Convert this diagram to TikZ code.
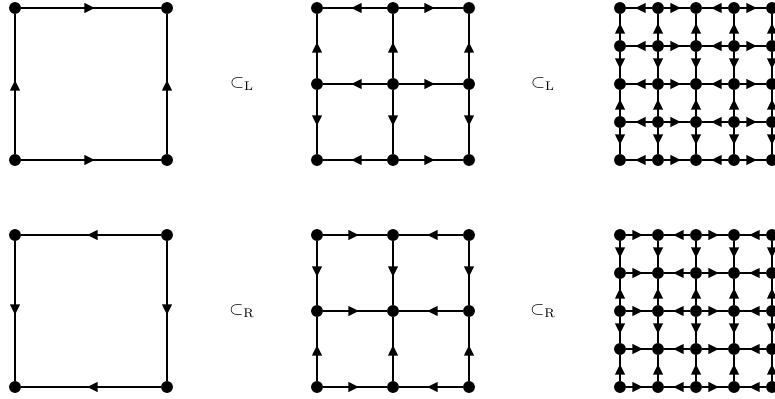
\documentclass[tikz,border=0pt]{standalone}
\usetikzlibrary{decorations.markings,arrows.meta}
\tikzset{
  dot/.style={circle,fill=black,inner sep=0pt,minimum size=0.31cm},
  edge/.style={line width=1.9pt,postaction={decorate},
    decoration={markings,mark=at position 0.5 with {\arrow[xshift=3pt]{Triangle[length=8pt,width=7pt]}}}},
  lbl/.style={inner sep=1pt,scale=1.35}
}
% #1 name, #2 x0, #3 y0, #4 segments, #5 step, #6 horizontal parity, #7 vertical parity
\newcommand{\mygrid}[7]{%
  \foreach \i in {0,...,#4}{\foreach \j in {0,...,#4}{\node[dot] (#1-\i-\j) at ({#2+#5*\i},{#3+#5*\j}) {};}}
  \foreach \j in {0,...,#4}{\foreach \i in {1,...,#4}{%
    \pgfmathtruncatemacro{\k}{\i-1}\pgfmathtruncatemacro{\s}{mod(\k+#6,2)}%
    \ifnum\s=1 \draw[edge] (#1-\k-\j) -- (#1-\i-\j);\else \draw[edge] (#1-\i-\j) -- (#1-\k-\j);\fi}}
  \foreach \i in {0,...,#4}{\foreach \j in {1,...,#4}{%
    \pgfmathtruncatemacro{\k}{\j-1}\pgfmathtruncatemacro{\s}{mod(\k+#7,2)}%
    \ifnum\s=0 \draw[edge] (#1-\i-\j) -- (#1-\i-\k);\else \draw[edge] (#1-\i-\k) -- (#1-\i-\j);\fi}}
}
\begin{document}
\begin{tikzpicture}[x={(0.026316cm,0)},y={(0,-0.026316cm)}]
\useasboundingbox (0,0) rectangle (775,399);
\mygrid{la}{15}{8}{1}{152}{1}{0}
\mygrid{lb}{317}{8}{2}{76}{0}{0}
\mygrid{lc}{620}{8}{4}{38}{0}{0}
\mygrid{ra}{15}{235}{1}{152}{0}{1}
\mygrid{rb}{317}{235}{2}{76}{1}{1}
\mygrid{rc}{620}{235}{4}{38}{1}{1}
\node[lbl] (sl1) at (242,84) {$\subset_{\mathrm{L}}$};
\node[lbl] (sl2) at (543,84) {$\subset_{\mathrm{L}}$};
\node[lbl] (sr1) at (242,311) {$\subset_{\mathrm{R}}$};
\node[lbl] (sr2) at (543,311) {$\subset_{\mathrm{R}}$};
\end{tikzpicture}
\end{document}
